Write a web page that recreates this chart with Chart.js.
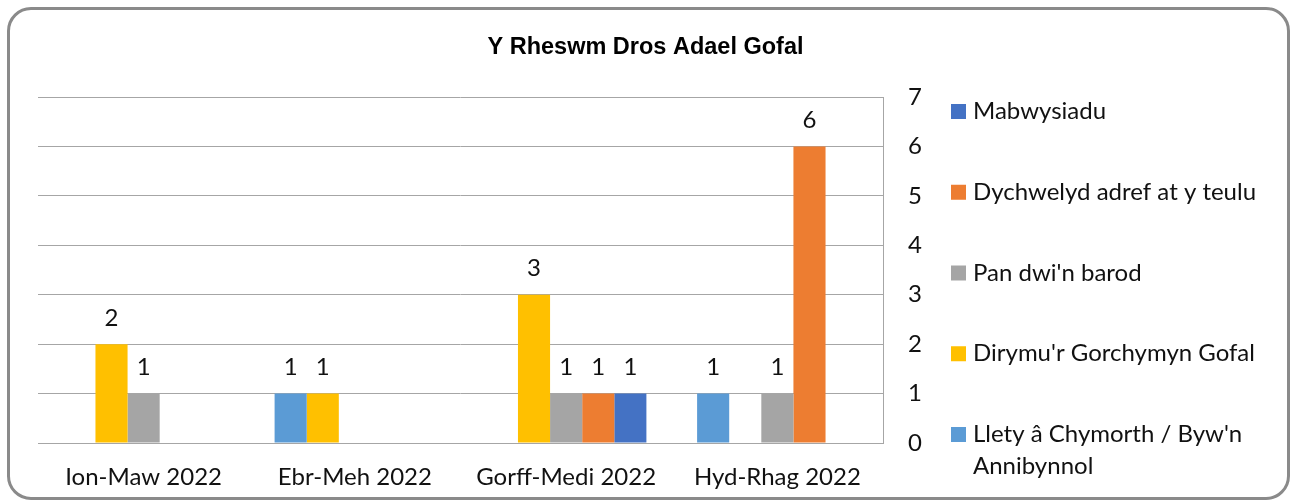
<!DOCTYPE html>
<html>
<head>
<meta charset="utf-8">
<title>Y Rheswm Dros Adael Gofal</title>
<script src="https://cdn.jsdelivr.net/npm/chart.js@4.4.1/dist/chart.umd.min.js"></script>
<style>
    html, body { margin: 0; padding: 0; background: #fff; }
    #card {
        position: absolute; left: 7px; top: 7px;
        width: 1283px; height: 493px;
        box-sizing: border-box;
        border: 3px solid #8a8a8a;
        border-radius: 24px;
        overflow: hidden;
        background: #fff;
    }
    canvas { display: block; }
</style>
</head>
<body>
<div id="card"><canvas id="myChart" width="1277" height="487"></canvas></div>
<script>
// Data
const categories = ['Ion-Maw 2022', 'Ebr-Meh 2022', 'Gorff-Medi 2022', 'Hyd-Rhag 2022'];
const seriesNames = [
    "Llety â Chymorth / Byw'n Annibynnol",
    "Dirymu'r Gorchymyn Gofal",
    "Pan dwi'n barod",
    'Dychwelyd adref at y teulu',
    'Mabwysiadu'
];
const lletyValues = [0, 1, 0, 1];
const dirymuValues = [2, 1, 3, 0];
const panBarodValues = [1, 0, 1, 1];
const dychwelydValues = [0, 0, 1, 6];
const mabwysiaduValues = [0, 0, 1, 0];
const seriesValues = [lletyValues, dirymuValues, panBarodValues, dychwelydValues, mabwysiaduValues];
const seriesColors = ['#5B9BD5', '#FFC000', '#A5A5A5', '#ED7D31', '#4472C4'];
const yMin = 0;
const yMax = 7;
const yStep = 1;

const textFont = 'Lato, "Open Sans", sans-serif';
const textSize = 24;
const textColor = '#111111';
const gridColor = '#a6a6a6';

// Value labels above the bars (zeros are skipped)
const barValues = {
    id: 'barValues',
    afterDatasetsDraw(chart, args, opts) {
        const ctx = chart.ctx;
        ctx.save();
        ctx.font = `${opts.size}px ${textFont}`;
        ctx.fillStyle = textColor;
        ctx.textAlign = 'center';
        ctx.textBaseline = 'middle';
        chart.data.datasets.forEach((ds, i) => {
            const meta = chart.getDatasetMeta(i);
            meta.data.forEach((bar, j) => {
                const v = ds.data[j];
                if (!v) return;
                ctx.fillText(String(v), bar.x, bar.y - opts.offset);
            });
        });
        ctx.restore();
    }
};

// Legend on the right, drawn in reverse order with wide spacing like the original
const sideLegend = {
    id: 'sideLegend',
    afterDraw(chart, args, opts) {
        const ctx = chart.ctx;
        const items = chart.data.datasets.map(ds => ({ label: ds.label, color: ds.backgroundColor })).reverse();
        ctx.save();
        ctx.font = `${opts.size}px ${textFont}`;
        ctx.textAlign = 'left';
        ctx.textBaseline = 'middle';

        const wrap = (text) => {
            const words = text.split(' ');
            const lines = [];
            let line = '';
            words.forEach(w => {
                const test = line ? line + ' ' + w : w;
                if (line && ctx.measureText(test).width > opts.maxWidth) {
                    lines.push(line);
                    line = w;
                } else {
                    line = test;
                }
            });
            lines.push(line);
            return lines;
        };

        let y = opts.top;
        items.forEach(item => {
            ctx.fillStyle = item.color;
            ctx.fillRect(opts.x, y - opts.box / 2, opts.box, opts.box);
            ctx.fillStyle = textColor;
            wrap(item.label).forEach((line, k) => {
                ctx.fillText(line, opts.x + opts.box + 7, y + k * opts.lineGap);
            });
            y += opts.step;
        });
        ctx.restore();
    }
};

const ctx = document.getElementById('myChart').getContext('2d');
new Chart(ctx, {
    type: 'bar',
    data: {
        labels: categories,
        datasets: seriesNames.map((name, i) => ({
            label: name,
            data: seriesValues[i],
            backgroundColor: seriesColors[i],
            borderWidth: 0,
            categoryPercentage: 0.76,
            barPercentage: 1.0
        }))
    },
    options: {
        responsive: false,
        animation: false,
        layout: {
            padding: { left: 28, right: 34, top: 0, bottom: 0 }
        },
        scales: {
            x: {
                grid: { display: false, drawTicks: false },
                border: { display: true, color: gridColor, width: 1 },
                ticks: {
                    color: textColor,
                    padding: 20,
                    maxRotation: 0,
                    font: { family: textFont, size: textSize }
                },
                afterFit(scale) {
                    scale.height = 54;
                }
            },
            y: {
                position: 'right',
                min: yMin,
                max: yMax,
                grid: { color: gridColor, drawTicks: false, lineWidth: 1 },
                border: { display: true, color: gridColor, width: 1 },
                ticks: {
                    stepSize: yStep,
                    color: textColor,
                    padding: 25,
                    font: { family: textFont, size: textSize }
                },
                afterFit(scale) {
                    // leaves room for the legend drawn by sideLegend
                    scale.width = 370;
                }
            }
        },
        plugins: {
            legend: { display: false },
            tooltip: { enabled: false },
            title: {
                display: true,
                text: 'Y Rheswm Dros Adael Gofal',
                color: '#000000',
                font: { family: '"Liberation Sans", Arial, sans-serif', size: 23.5, weight: 'bold' },
                padding: { top: 23, bottom: 35.8 }
            },
            barValues: { size: textSize, offset: 26 },
            sideLegend: { x: 941, top: 101.5, step: 80.75, lineGap: 32, box: 15, size: textSize, maxWidth: 310 }
        }
    },
    plugins: [barValues, sideLegend]
});
</script>
</body>
</html>
